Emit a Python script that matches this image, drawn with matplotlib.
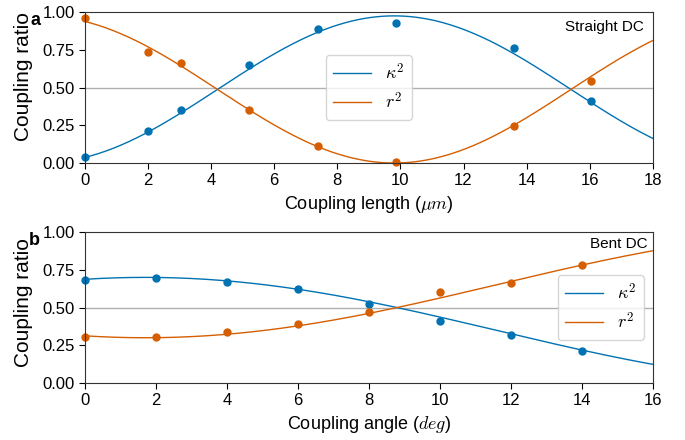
import numpy as np
import matplotlib
matplotlib.use("Agg")
from matplotlib import pyplot as plt

plt.rcParams['font.family'] = ['Liberation Sans', 'DejaVu Sans']
plt.rcParams['mathtext.fontset'] = 'cm'

blue = '#0072B2'
orange = '#D55E00'

# panel a: straight directional coupler
length = [0, 2.0, 3.05, 5.2, 7.4, 9.85, 13.6, 16.05]
kappa_a = [0.04, 0.21, 0.35, 0.65, 0.885, 0.93, 0.76, 0.41]
r_a = [0.96, 0.735, 0.66, 0.35, 0.11, 0.005, 0.245, 0.545]
# fit parameters
amp_a, k_a, l0_a = 0.975, 0.1402, -1.4

# panel b: bent directional coupler
angle = [0, 2, 4, 6, 8, 10, 12, 14]
kappa_b = [0.68, 0.695, 0.67, 0.62, 0.525, 0.41, 0.32, 0.21]
r_b = [0.305, 0.305, 0.34, 0.39, 0.47, 0.60, 0.665, 0.78]
amp_b, k_b, t0_b = 0.70, 0.0795, 1.7

fig = plt.figure(figsize=(6.85, 4.4), dpi=100)
ax1 = fig.add_axes([0.124, 0.6295, 0.829, 0.343])
ax2 = fig.add_axes([0.124, 0.1295, 0.829, 0.343])

xa = np.linspace(0, 18, 300)
fit_k_a = amp_a * np.sin(k_a * (xa - l0_a)) ** 2
fit_r_a = amp_a * np.cos(k_a * (xa - l0_a)) ** 2

xb = np.linspace(0, 16, 300)
fit_k_b = amp_b * np.cos(k_b * (xb - t0_b)) ** 2
fit_r_b = 1 - fit_k_b

for ax in (ax1, ax2):
    ax.axhline(0.5, color='#b0b0b0', lw=1, zorder=0)

ax1.plot(xa, fit_k_a, color=blue, lw=1, label=r'$\kappa^2$')
ax1.plot(xa, fit_r_a, color=orange, lw=1, label=r'$r^2$')
ax1.plot(length, kappa_a, 'o', color=blue, ms=5, clip_on=False)
ax1.plot(length, r_a, 'o', color=orange, ms=5, clip_on=False)
ax1.set_xlim(0, 18)
ax1.set_xticks(range(0, 19, 2))
ax1.set_xlabel(r'Coupling length ($\mu m$)', fontsize=13)
ax1.legend(loc='center', fontsize=13, handlelength=2.1)
ax1.text(0.985, 0.95, 'Straight DC', transform=ax1.transAxes, ha='right', va='top', fontsize=11)

ax2.plot(xb, fit_k_b, color=blue, lw=1, label=r'$\kappa^2$')
ax2.plot(xb, fit_r_b, color=orange, lw=1, label=r'$r^2$')
ax2.plot(angle, kappa_b, 'o', color=blue, ms=5, clip_on=False)
ax2.plot(angle, r_b, 'o', color=orange, ms=5, clip_on=False)
ax2.set_xlim(0, 16)
ax2.set_xticks(range(0, 17, 2))
ax2.set_xlabel(r'Coupling angle ($deg$)', fontsize=13)
ax2.legend(loc='center right', fontsize=13, handlelength=2.1, bbox_to_anchor=(1.0, 0.5))
ax2.text(0.99, 0.965, 'Bent DC', transform=ax2.transAxes, ha='right', va='top', fontsize=11)

for ax, ly in ((ax1, 0.575), (ax2, 0.535)):
    ax.set_ylim(0, 1)
    ax.set_yticks([0, 0.25, 0.5, 0.75, 1.0])
    ax.set_yticklabels(['0.00', '0.25', '0.50', '0.75', '1.00'])
    ax.set_ylabel('Coupling ratio', fontsize=15)
    ax.yaxis.set_label_coords(-0.092, ly)
    ax.tick_params(labelsize=12, length=4)
    for s in ax.spines.values():
        s.set_color('#333333')

fig.text(0.044, 0.943, 'a', fontsize=13, fontweight='bold')
fig.text(0.042, 0.443, 'b', fontsize=13, fontweight='bold')

fig.savefig('out.png', dpi=100)
